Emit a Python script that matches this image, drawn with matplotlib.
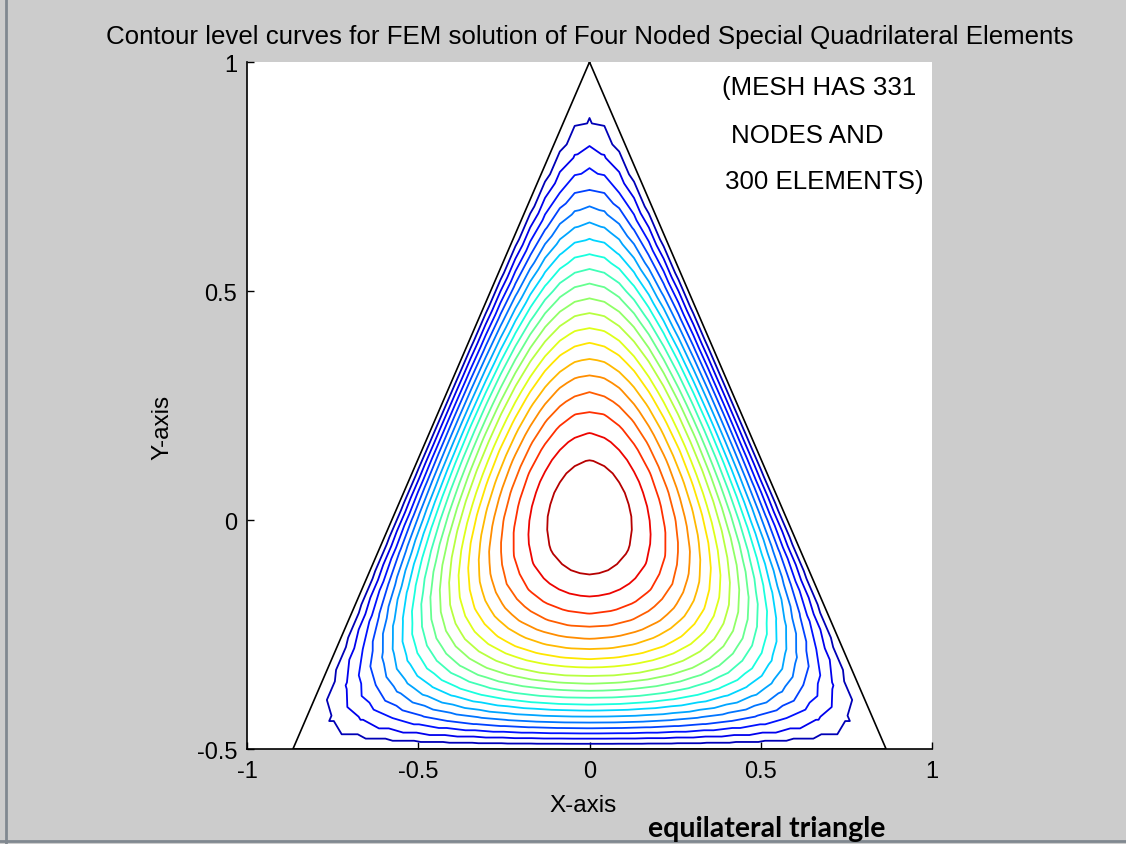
import numpy as np
import matplotlib.pyplot as plt
import matplotlib.tri as mtri
from matplotlib.lines import Line2D

plt.rc('font', family='Liberation Sans')

# equilateral triangle corners: apex, bottom-left, bottom-right
corner_x = [0.0, -0.866, 0.866]
corner_y = [1.0, -0.5, -0.5]

# 3 special quads (corner, edge midpoint, centroid, edge midpoint), each split n_div x n_div
n_div = 10

contour_levels = [0.0060, 0.0119, 0.0179, 0.0238, 0.0298, 0.0357, 0.0417,
                  0.0476, 0.0536, 0.0595, 0.0655, 0.0714, 0.0774, 0.0833,
                  0.0893, 0.0952, 0.1012, 0.1071, 0.1131, 0.1190]
u_max = 0.125

xticks = [-1, -0.5, 0, 0.5, 1]
xtick_labels = ['-1', '-0.5', '0', '0.5', '1']
yticks = [-0.5, 0, 0.5, 1]
ytick_labels = ['-0.5', '0', '0.5', '1']

# build the quad mesh
P = np.array([corner_x, corner_y]).T
C = P.mean(axis=0)
s = np.linspace(0, 1, n_div + 1)
S, T = np.meshgrid(s, s)
pts = []
cells = []
for i in range(3):
    p0 = P[i]
    p1 = (P[i] + P[(i + 1) % 3]) / 2
    p2 = C
    p3 = (P[i] + P[(i - 1) % 3]) / 2
    X = ((1 - S) * (1 - T))[..., None] * p0 + (S * (1 - T))[..., None] * p1 \
        + (S * T)[..., None] * p2 + ((1 - S) * T)[..., None] * p3
    base = len(pts)
    pts.extend(X.reshape(-1, 2).tolist())
    for r in range(n_div):
        for c in range(n_div):
            a = base + r * (n_div + 1) + c
            cells.append((a, a + 1, a + n_div + 2, a + n_div + 1))
pts = np.array(pts)
uniq, inv = np.unique(np.round(pts, 6), axis=0, return_inverse=True)
inv = inv.ravel()
tris = []
for a, b, c, d in cells:
    tris.append((inv[a], inv[b], inv[c]))
    tris.append((inv[a], inv[c], inv[d]))
triang = mtri.Triangulation(uniq[:, 0], uniq[:, 1], np.array(tris))

# nodal solution: product of distances to the three sides
xn, yn = uniq[:, 0], uniq[:, 1]
u = (yn + 0.5) * (1 - np.sqrt(3) * xn - yn) / 2 * (1 + np.sqrt(3) * xn - yn) / 2
u = np.clip(u, 0, None)

fig = plt.figure(figsize=(11.26, 8.45), dpi=100, facecolor='#cccccc')
ax = fig.add_axes([0.2194, 0.1124, 0.6083, 0.8130])

ax.tricontour(triang, u, levels=contour_levels, cmap='jet', vmin=0, vmax=u_max,
              linewidths=1.3)
ax.plot(corner_x + [corner_x[0]], corner_y + [corner_y[0]], color='k', lw=1.2)

ax.set_xlim(-1, 1)
ax.set_ylim(-0.5, 1)
ax.set_xticks(xticks)
ax.set_xticklabels(xtick_labels)
ax.set_yticks(yticks)
ax.set_yticklabels(ytick_labels)
ax.tick_params(direction='in', length=5, width=1, labelsize=17)
ax.tick_params(axis='x', pad=8)
ax.tick_params(axis='y', pad=7)
ax.spines['top'].set_visible(False)
ax.spines['right'].set_visible(False)
for sp in ['left', 'bottom']:
    ax.spines[sp].set_linewidth(1.2)

ax.set_title('Contour level curves for FEM solution of Four Noded Special Quadrilateral Elements',
             fontsize=18.6, pad=14)
ax.set_xlabel('X-axis', fontsize=17.5)
ax.xaxis.set_label_coords(0.49, -0.066)
ax.set_ylabel('Y-axis', fontsize=17.5)
ax.yaxis.set_label_coords(-0.108, 0.47)

ax.text(0.387, 0.945, '(MESH HAS 331', fontsize=18.6, va='center')
ax.text(0.414, 0.84, 'NODES AND', fontsize=18.6, va='center')
ax.text(0.396, 0.74, '300 ELEMENTS)', fontsize=18.6, va='center')

fig.text(0.5755, 0.009, 'equilateral triangle', fontsize=20.5, fontweight='bold',
         family='Lato')

# window frame edges
fig.add_artist(Line2D([0.005, 0.005], [0.0, 1.0], color='#808890', lw=2))
fig.add_artist(Line2D([0.0, 1.0], [0.003, 0.003], color='#808890', lw=2))

fig.savefig('out.png', dpi=100, facecolor=fig.get_facecolor())
